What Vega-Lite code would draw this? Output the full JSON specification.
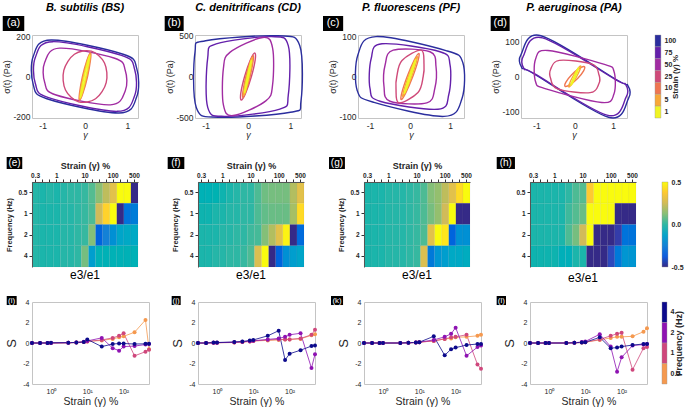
{
"$schema":"https://vega.github.io/schema/vega-lite/v6.json",
"padding":{"left":2,"top":1,"right":0,"bottom":0},
"background":"white",
"config":{"font":"Liberation Sans","locale":{"number":{"decimal":".","thousands":",","grouping":[3],"currency":["$",""],"minus":"-"}},"view":{"stroke":"#c4c4c4","strokeWidth":1},"axis":{"labelFont":"Liberation Sans","titleFont":"Liberation Sans","labelColor":"#262626","titleColor":"#262626","grid":false,"domain":false,"ticks":false,"titleFontWeight":"normal"},"title":{"font":"Liberation Sans"}},
"datasets":{
"la":[
{"s":100,"o":1,"g":-1.22,"t":100},{"s":100,"o":2,"g":-0.8,"t":180},{"s":100,"o":3,"g":0.9,"t":110},{"s":100,"o":4,"g":1.22,"t":40},{"s":100,"o":5,"g":1.22,"t":-100},{"s":100,"o":6,"g":0.8,"t":-180},{"s":100,"o":7,"g":-0.9,"t":-110},{"s":100,"o":8,"g":-1.22,"t":-40},
{"s":75,"o":1,"g":-1.17,"t":95},{"s":75,"o":2,"g":-0.76,"t":172},{"s":75,"o":3,"g":0.86,"t":104},{"s":75,"o":4,"g":1.17,"t":36},{"s":75,"o":5,"g":1.17,"t":-95},{"s":75,"o":6,"g":0.76,"t":-172},{"s":75,"o":7,"g":-0.86,"t":-104},{"s":75,"o":8,"g":-1.17,"t":-36},
{"s":50,"o":1,"g":-0.95,"t":70},{"s":50,"o":2,"g":-0.6,"t":140},{"s":50,"o":3,"g":0.7,"t":90},{"s":50,"o":4,"g":0.95,"t":30},{"s":50,"o":5,"g":0.95,"t":-70},{"s":50,"o":6,"g":0.6,"t":-140},{"s":50,"o":7,"g":-0.7,"t":-90},{"s":50,"o":8,"g":-0.95,"t":-30},
{"s":25,"o":1,"g":0.15,"t":125},{"s":25,"o":2,"g":0.46,"t":67},{"s":25,"o":3,"g":0.5,"t":-30},{"s":25,"o":4,"g":0.25,"t":-110},{"s":25,"o":5,"g":-0.15,"t":-125},{"s":25,"o":6,"g":-0.46,"t":-67},{"s":25,"o":7,"g":-0.5,"t":30},{"s":25,"o":8,"g":-0.25,"t":110},
{"s":10,"o":1,"g":0.13,"t":118},{"s":10,"o":2,"g":0.13,"t":83},{"s":10,"o":3,"g":0.06,"t":0},{"s":10,"o":4,"g":-0.05,"t":-83},{"s":10,"o":5,"g":-0.13,"t":-118},{"s":10,"o":6,"g":-0.13,"t":-83},{"s":10,"o":7,"g":-0.06,"t":0},{"s":10,"o":8,"g":0.05,"t":83},
{"s":5,"o":1,"g":0.12,"t":112},{"s":5,"o":2,"g":0.113,"t":79},{"s":5,"o":3,"g":0.04,"t":0},{"s":5,"o":4,"g":-0.057,"t":-79},{"s":5,"o":5,"g":-0.12,"t":-112},{"s":5,"o":6,"g":-0.113,"t":-79},{"s":5,"o":7,"g":-0.04,"t":0},{"s":5,"o":8,"g":0.057,"t":79},
{"s":1,"o":1,"g":0.11,"t":105},{"s":1,"o":2,"g":0.092,"t":74},{"s":1,"o":3,"g":0.02,"t":0},{"s":1,"o":4,"g":-0.064,"t":-74},{"s":1,"o":5,"g":-0.11,"t":-105},{"s":1,"o":6,"g":-0.092,"t":-74},{"s":1,"o":7,"g":-0.02,"t":0},{"s":1,"o":8,"g":0.064,"t":74}
],
"lb":[
{"s":100,"o":1,"g":-1.25,"t":300},{"s":100,"o":2,"g":-1.0,"t":440},{"s":100,"o":3,"g":0.7,"t":500},{"s":100,"o":4,"g":1.22,"t":380},{"s":100,"o":5,"g":1.25,"t":-300},{"s":100,"o":6,"g":1.0,"t":-440},{"s":100,"o":7,"g":-0.7,"t":-500},{"s":100,"o":8,"g":-1.22,"t":-380},
{"s":75,"o":1,"g":-0.95,"t":230},{"s":75,"o":2,"g":-0.75,"t":400},{"s":75,"o":3,"g":0.55,"t":490},{"s":75,"o":4,"g":0.95,"t":380},{"s":75,"o":5,"g":0.95,"t":-230},{"s":75,"o":6,"g":0.75,"t":-400},{"s":75,"o":7,"g":-0.55,"t":-490},{"s":75,"o":8,"g":-0.95,"t":-380},
{"s":50,"o":1,"g":-0.58,"t":100},{"s":50,"o":2,"g":-0.42,"t":300},{"s":50,"o":3,"g":0.35,"t":480},{"s":50,"o":4,"g":0.58,"t":350},{"s":50,"o":5,"g":0.58,"t":-100},{"s":50,"o":6,"g":0.42,"t":-300},{"s":50,"o":7,"g":-0.35,"t":-480},{"s":50,"o":8,"g":-0.58,"t":-350},
{"s":25,"o":1,"g":0.16,"t":290},{"s":25,"o":2,"g":0.17,"t":205},{"s":25,"o":3,"g":0.08,"t":0},{"s":25,"o":4,"g":-0.057,"t":-205},{"s":25,"o":5,"g":-0.16,"t":-290},{"s":25,"o":6,"g":-0.17,"t":-205},{"s":25,"o":7,"g":-0.08,"t":0},{"s":25,"o":8,"g":0.057,"t":205},
{"s":10,"o":1,"g":0.12,"t":260},{"s":10,"o":2,"g":0.12,"t":184},{"s":10,"o":3,"g":0.05,"t":0},{"s":10,"o":4,"g":-0.05,"t":-184},{"s":10,"o":5,"g":-0.12,"t":-260},{"s":10,"o":6,"g":-0.12,"t":-184},{"s":10,"o":7,"g":-0.05,"t":0},{"s":10,"o":8,"g":0.05,"t":184},
{"s":5,"o":1,"g":0.1,"t":230},{"s":5,"o":2,"g":0.092,"t":163},{"s":5,"o":3,"g":0.03,"t":0},{"s":5,"o":4,"g":-0.05,"t":-163},{"s":5,"o":5,"g":-0.1,"t":-230},{"s":5,"o":6,"g":-0.092,"t":-163},{"s":5,"o":7,"g":-0.03,"t":0},{"s":5,"o":8,"g":0.05,"t":163},
{"s":1,"o":1,"g":0.08,"t":200},{"s":1,"o":2,"g":0.067,"t":141},{"s":1,"o":3,"g":0.015,"t":0},{"s":1,"o":4,"g":-0.046,"t":-141},{"s":1,"o":5,"g":-0.08,"t":-200},{"s":1,"o":6,"g":-0.067,"t":-141},{"s":1,"o":7,"g":-0.015,"t":0},{"s":1,"o":8,"g":0.046,"t":141}
],
"lc":[
{"s":100,"o":1,"g":-1.3,"t":55},{"s":100,"o":2,"g":-0.85,"t":100},{"s":100,"o":3,"g":0.9,"t":65},{"s":100,"o":4,"g":1.32,"t":35},{"s":100,"o":5,"g":1.3,"t":-55},{"s":100,"o":6,"g":0.85,"t":-100},{"s":100,"o":7,"g":-0.9,"t":-65},{"s":100,"o":8,"g":-1.32,"t":-35},
{"s":75,"o":1,"g":-0.97,"t":45},{"s":75,"o":2,"g":-0.7,"t":82},{"s":75,"o":3,"g":0.75,"t":62},{"s":75,"o":4,"g":1.0,"t":30},{"s":75,"o":5,"g":0.97,"t":-45},{"s":75,"o":6,"g":0.7,"t":-82},{"s":75,"o":7,"g":-0.75,"t":-62},{"s":75,"o":8,"g":-1.0,"t":-30},
{"s":50,"o":1,"g":-0.62,"t":30},{"s":50,"o":2,"g":-0.42,"t":66},{"s":50,"o":3,"g":0.5,"t":62},{"s":50,"o":4,"g":0.65,"t":25},{"s":50,"o":5,"g":0.62,"t":-30},{"s":50,"o":6,"g":0.42,"t":-66},{"s":50,"o":7,"g":-0.5,"t":-62},{"s":50,"o":8,"g":-0.65,"t":-25},
{"s":25,"o":1,"g":-0.33,"t":0},{"s":25,"o":2,"g":-0.2,"t":40},{"s":25,"o":3,"g":0.28,"t":66},{"s":25,"o":4,"g":0.35,"t":30},{"s":25,"o":5,"g":0.33,"t":0},{"s":25,"o":6,"g":0.2,"t":-40},{"s":25,"o":7,"g":-0.28,"t":-66},{"s":25,"o":8,"g":-0.35,"t":-30},
{"s":10,"o":1,"g":0.22,"t":58},{"s":10,"o":2,"g":0.205,"t":41},{"s":10,"o":3,"g":0.07,"t":0},{"s":10,"o":4,"g":-0.106,"t":-41},{"s":10,"o":5,"g":-0.22,"t":-58},{"s":10,"o":6,"g":-0.205,"t":-41},{"s":10,"o":7,"g":-0.07,"t":0},{"s":10,"o":8,"g":0.106,"t":41},
{"s":5,"o":1,"g":0.18,"t":50},{"s":5,"o":2,"g":0.155,"t":35},{"s":5,"o":3,"g":0.04,"t":0},{"s":5,"o":4,"g":-0.099,"t":-35},{"s":5,"o":5,"g":-0.18,"t":-50},{"s":5,"o":6,"g":-0.155,"t":-35},{"s":5,"o":7,"g":-0.04,"t":0},{"s":5,"o":8,"g":0.099,"t":35},
{"s":1,"o":1,"g":0.14,"t":42},{"s":1,"o":2,"g":0.113,"t":30},{"s":1,"o":3,"g":0.02,"t":0},{"s":1,"o":4,"g":-0.085,"t":-30},{"s":1,"o":5,"g":-0.14,"t":-42},{"s":1,"o":6,"g":-0.113,"t":-30},{"s":1,"o":7,"g":-0.02,"t":0},{"s":1,"o":8,"g":0.085,"t":30}
],
"ld":[
{"s":100,"o":1,"g":-1.4,"t":62},{"s":100,"o":2,"g":-0.88,"t":116},{"s":100,"o":3,"g":1.1,"t":-10},{"s":100,"o":4,"g":1.38,"t":-25},{"s":100,"o":5,"g":1.4,"t":-62},{"s":100,"o":6,"g":0.88,"t":-116},{"s":100,"o":7,"g":-1.1,"t":10},{"s":100,"o":8,"g":-1.38,"t":25},
{"s":75,"o":1,"g":-1.34,"t":58},{"s":75,"o":2,"g":-0.84,"t":110},{"s":75,"o":3,"g":1.05,"t":-8},{"s":75,"o":4,"g":1.32,"t":-22},{"s":75,"o":5,"g":1.34,"t":-58},{"s":75,"o":6,"g":0.84,"t":-110},{"s":75,"o":7,"g":-1.05,"t":8},{"s":75,"o":8,"g":-1.32,"t":22},
{"s":50,"o":1,"g":-1.02,"t":50},{"s":50,"o":2,"g":-0.7,"t":74},{"s":50,"o":3,"g":0.75,"t":35},{"s":50,"o":4,"g":1.02,"t":15},{"s":50,"o":5,"g":1.02,"t":-50},{"s":50,"o":6,"g":0.7,"t":-74},{"s":50,"o":7,"g":-0.75,"t":-35},{"s":50,"o":8,"g":-1.02,"t":-15},
{"s":25,"o":1,"g":-0.63,"t":20},{"s":25,"o":2,"g":-0.4,"t":46},{"s":25,"o":3,"g":0.45,"t":35},{"s":25,"o":4,"g":0.63,"t":5},{"s":25,"o":5,"g":0.63,"t":-20},{"s":25,"o":6,"g":0.4,"t":-46},{"s":25,"o":7,"g":-0.45,"t":-35},{"s":25,"o":8,"g":-0.63,"t":-5},
{"s":10,"o":1,"g":0.25,"t":28},{"s":10,"o":2,"g":0.23,"t":16},{"s":10,"o":3,"g":0.08,"t":-5},{"s":10,"o":4,"g":-0.12,"t":-23},{"s":10,"o":5,"g":-0.25,"t":-28},{"s":10,"o":6,"g":-0.23,"t":-16},{"s":10,"o":7,"g":-0.08,"t":5},{"s":10,"o":8,"g":0.12,"t":23},
{"s":5,"o":1,"g":0.15,"t":30},{"s":5,"o":2,"g":0.141,"t":21},{"s":5,"o":3,"g":0.05,"t":0},{"s":5,"o":4,"g":-0.071,"t":-21},{"s":5,"o":5,"g":-0.15,"t":-30},{"s":5,"o":6,"g":-0.141,"t":-21},{"s":5,"o":7,"g":-0.05,"t":0},{"s":5,"o":8,"g":0.071,"t":21},
{"s":1,"o":1,"g":0.1,"t":25},{"s":1,"o":2,"g":0.085,"t":18},{"s":1,"o":3,"g":0.02,"t":0},{"s":1,"o":4,"g":-0.057,"t":-18},{"s":1,"o":5,"g":-0.1,"t":-25},{"s":1,"o":6,"g":-0.085,"t":-18},{"s":1,"o":7,"g":-0.02,"t":0},{"s":1,"o":8,"g":0.057,"t":18}
],
"he":[
{"s":0.3,"f":0.5,"v":-0.01},{"s":0.5,"f":0.5,"v":-0.02},{"s":0.8,"f":0.5,"v":-0.01},{"s":1,"f":0.5,"v":-0.02},{"s":3,"f":0.5,"v":-0.01},{"s":5,"f":0.5,"v":0},{"s":8,"f":0.5,"v":0},{"s":10,"f":0.5,"v":0.01},{"s":25,"f":0.5,"v":0.05},{"s":50,"f":0.5,"v":0.13},{"s":75,"f":0.5,"v":0.22},{"s":100,"f":0.5,"v":0.3},{"s":200,"f":0.5,"v":0.5},{"s":400,"f":0.5,"v":0.52},{"s":500,"f":0.5,"v":-0.55},
{"s":0.3,"f":1,"v":-0.01},{"s":0.5,"f":1,"v":-0.02},{"s":0.8,"f":1,"v":-0.02},{"s":1,"f":1,"v":-0.02},{"s":3,"f":1,"v":-0.01},{"s":5,"f":1,"v":-0.01},{"s":8,"f":1,"v":0},{"s":10,"f":1,"v":0.01},{"s":25,"f":1,"v":0.04},{"s":50,"f":1,"v":0.25},{"s":75,"f":1,"v":0.4},{"s":100,"f":1,"v":0.52},{"s":200,"f":1,"v":-0.52},{"s":400,"f":1,"v":-0.3},{"s":500,"f":1,"v":-0.27},
{"s":0.3,"f":2,"v":-0.01},{"s":0.5,"f":2,"v":-0.02},{"s":0.8,"f":2,"v":-0.02},{"s":1,"f":2,"v":-0.02},{"s":3,"f":2,"v":-0.01},{"s":5,"f":2,"v":-0.01},{"s":8,"f":2,"v":0},{"s":10,"f":2,"v":0.01},{"s":25,"f":2,"v":0.12},{"s":50,"f":2,"v":-0.35},{"s":75,"f":2,"v":-0.25},{"s":100,"f":2,"v":-0.2},{"s":200,"f":2,"v":-0.12},{"s":400,"f":2,"v":-0.1},{"s":500,"f":2,"v":-0.1},
{"s":0.3,"f":4,"v":-0.01},{"s":0.5,"f":4,"v":-0.02},{"s":0.8,"f":4,"v":-0.02},{"s":1,"f":4,"v":-0.02},{"s":3,"f":4,"v":-0.01},{"s":5,"f":4,"v":-0.01},{"s":8,"f":4,"v":0},{"s":10,"f":4,"v":0.1},{"s":25,"f":4,"v":-0.15},{"s":50,"f":4,"v":-0.05},{"s":75,"f":4,"v":-0.05},{"s":100,"f":4,"v":-0.05},{"s":200,"f":4,"v":-0.05},{"s":400,"f":4,"v":-0.05},{"s":500,"f":4,"v":-0.05}
],
"hf":[
{"s":0.3,"f":0.5,"v":-0.05},{"s":0.5,"f":0.5,"v":-0.05},{"s":0.8,"f":0.5,"v":-0.04},{"s":1,"f":0.5,"v":-0.03},{"s":3,"f":0.5,"v":-0.02},{"s":5,"f":0.5,"v":-0.01},{"s":8,"f":0.5,"v":0},{"s":10,"f":0.5,"v":0},{"s":25,"f":0.5,"v":0.04},{"s":50,"f":0.5,"v":0.09},{"s":75,"f":0.5,"v":0.1},{"s":100,"f":0.5,"v":0.1},{"s":200,"f":0.5,"v":0.1},{"s":400,"f":0.5,"v":0.2},{"s":500,"f":0.5,"v":0.3},
{"s":0.3,"f":1,"v":-0.03},{"s":0.5,"f":1,"v":-0.03},{"s":0.8,"f":1,"v":-0.02},{"s":1,"f":1,"v":-0.02},{"s":3,"f":1,"v":-0.01},{"s":5,"f":1,"v":-0.01},{"s":8,"f":1,"v":0},{"s":10,"f":1,"v":0},{"s":25,"f":1,"v":0.04},{"s":50,"f":1,"v":0.07},{"s":75,"f":1,"v":0.08},{"s":100,"f":1,"v":0.08},{"s":200,"f":1,"v":0.08},{"s":400,"f":1,"v":0.18},{"s":500,"f":1,"v":0.42},
{"s":0.3,"f":2,"v":-0.02},{"s":0.5,"f":2,"v":-0.02},{"s":0.8,"f":2,"v":-0.02},{"s":1,"f":2,"v":-0.01},{"s":3,"f":2,"v":-0.01},{"s":5,"f":2,"v":0},{"s":8,"f":2,"v":0},{"s":10,"f":2,"v":0.02},{"s":25,"f":2,"v":0.03},{"s":50,"f":2,"v":0.12},{"s":75,"f":2,"v":0.2},{"s":100,"f":2,"v":0.3},{"s":200,"f":2,"v":0.48},{"s":400,"f":2,"v":-0.5},{"s":500,"f":2,"v":-0.33},
{"s":0.3,"f":4,"v":-0.02},{"s":0.5,"f":4,"v":-0.02},{"s":0.8,"f":4,"v":-0.01},{"s":1,"f":4,"v":-0.01},{"s":3,"f":4,"v":0},{"s":5,"f":4,"v":0},{"s":8,"f":4,"v":0.01},{"s":10,"f":4,"v":0.04},{"s":25,"f":4,"v":0.28},{"s":50,"f":4,"v":0.5},{"s":75,"f":4,"v":-0.5},{"s":100,"f":4,"v":-0.35},{"s":200,"f":4,"v":-0.2},{"s":400,"f":4,"v":-0.15},{"s":500,"f":4,"v":-0.12}
],
"hg":[
{"s":0.3,"f":0.5,"v":-0.02},{"s":0.5,"f":0.5,"v":-0.02},{"s":0.8,"f":0.5,"v":-0.02},{"s":1,"f":0.5,"v":-0.01},{"s":3,"f":0.5,"v":-0.01},{"s":5,"f":0.5,"v":-0.01},{"s":8,"f":0.5,"v":0},{"s":10,"f":0.5,"v":0.01},{"s":25,"f":0.5,"v":0.04},{"s":50,"f":0.5,"v":0.12},{"s":75,"f":0.5,"v":0.15},{"s":100,"f":0.5,"v":0.22},{"s":200,"f":0.5,"v":0.3},{"s":400,"f":0.5,"v":0.42},{"s":500,"f":0.5,"v":0.5},
{"s":0.3,"f":1,"v":-0.02},{"s":0.5,"f":1,"v":-0.02},{"s":0.8,"f":1,"v":-0.02},{"s":1,"f":1,"v":-0.01},{"s":3,"f":1,"v":-0.01},{"s":5,"f":1,"v":-0.01},{"s":8,"f":1,"v":0},{"s":10,"f":1,"v":0.01},{"s":25,"f":1,"v":0.04},{"s":50,"f":1,"v":0.1},{"s":75,"f":1,"v":0.15},{"s":100,"f":1,"v":0.25},{"s":200,"f":1,"v":0.5},{"s":400,"f":1,"v":-0.5},{"s":500,"f":1,"v":-0.5},
{"s":0.3,"f":2,"v":-0.02},{"s":0.5,"f":2,"v":-0.02},{"s":0.8,"f":2,"v":-0.02},{"s":1,"f":2,"v":-0.01},{"s":3,"f":2,"v":-0.01},{"s":5,"f":2,"v":-0.01},{"s":8,"f":2,"v":0},{"s":10,"f":2,"v":0.01},{"s":25,"f":2,"v":0.04},{"s":50,"f":2,"v":0.3},{"s":75,"f":2,"v":0.5},{"s":100,"f":2,"v":0.45},{"s":200,"f":2,"v":-0.35},{"s":400,"f":2,"v":-0.2},{"s":500,"f":2,"v":-0.2},
{"s":0.3,"f":4,"v":-0.02},{"s":0.5,"f":4,"v":-0.02},{"s":0.8,"f":4,"v":-0.02},{"s":1,"f":4,"v":-0.01},{"s":3,"f":4,"v":-0.01},{"s":5,"f":4,"v":-0.01},{"s":8,"f":4,"v":0},{"s":10,"f":4,"v":0.01},{"s":25,"f":4,"v":0.28},{"s":50,"f":4,"v":-0.28},{"s":75,"f":4,"v":-0.18},{"s":100,"f":4,"v":-0.15},{"s":200,"f":4,"v":-0.1},{"s":400,"f":4,"v":-0.1},{"s":500,"f":4,"v":-0.08}
],
"hh":[
{"s":0.3,"f":0.5,"v":-0.02},{"s":0.5,"f":0.5,"v":-0.02},{"s":0.8,"f":0.5,"v":-0.02},{"s":1,"f":0.5,"v":-0.02},{"s":3,"f":0.5,"v":-0.02},{"s":5,"f":0.5,"v":0},{"s":8,"f":0.5,"v":0.04},{"s":10,"f":0.5,"v":0.05},{"s":25,"f":0.5,"v":0.38},{"s":50,"f":0.5,"v":0.55},{"s":75,"f":0.5,"v":0.55},{"s":100,"f":0.5,"v":0.55},{"s":200,"f":0.5,"v":0.55},{"s":400,"f":0.5,"v":0.55},{"s":500,"f":0.5,"v":0.55},
{"s":0.3,"f":1,"v":-0.02},{"s":0.5,"f":1,"v":-0.02},{"s":0.8,"f":1,"v":-0.02},{"s":1,"f":1,"v":-0.02},{"s":3,"f":1,"v":-0.02},{"s":5,"f":1,"v":0.02},{"s":8,"f":1,"v":0.05},{"s":10,"f":1,"v":0.08},{"s":25,"f":1,"v":0.55},{"s":50,"f":1,"v":0.55},{"s":75,"f":1,"v":0.55},{"s":100,"f":1,"v":0.55},{"s":200,"f":1,"v":-0.5},{"s":400,"f":1,"v":-0.5},{"s":500,"f":1,"v":-0.5},
{"s":0.3,"f":2,"v":-0.02},{"s":0.5,"f":2,"v":-0.02},{"s":0.8,"f":2,"v":-0.02},{"s":1,"f":2,"v":-0.02},{"s":3,"f":2,"v":-0.02},{"s":5,"f":2,"v":0.04},{"s":8,"f":2,"v":0.1},{"s":10,"f":2,"v":0.25},{"s":25,"f":2,"v":0.5},{"s":50,"f":2,"v":-0.5},{"s":75,"f":2,"v":-0.5},{"s":100,"f":2,"v":-0.5},{"s":200,"f":2,"v":-0.45},{"s":400,"f":2,"v":-0.3},{"s":500,"f":2,"v":-0.3},
{"s":0.3,"f":4,"v":-0.03},{"s":0.5,"f":4,"v":-0.03},{"s":0.8,"f":4,"v":-0.03},{"s":1,"f":4,"v":-0.03},{"s":3,"f":4,"v":-0.06},{"s":5,"f":4,"v":-0.06},{"s":8,"f":4,"v":-0.02},{"s":10,"f":4,"v":-0.02},{"s":25,"f":4,"v":-0.5},{"s":50,"f":4,"v":-0.5},{"s":75,"f":4,"v":-0.5},{"s":100,"f":4,"v":-0.42},{"s":200,"f":4,"v":-0.28},{"s":400,"f":4,"v":-0.18},{"s":500,"f":4,"v":-0.18}
],
"si":[
{"s":0.3,"f":0.5,"v":0},{"s":0.5,"f":0.5,"v":0},{"s":0.8,"f":0.5,"v":0},{"s":1,"f":0.5,"v":0},{"s":3,"f":0.5,"v":0.02},{"s":5,"f":0.5,"v":0.05},{"s":8,"f":0.5,"v":0.1},{"s":10,"f":0.5,"v":0.15},{"s":25,"f":0.5,"v":0.25},{"s":50,"f":0.5,"v":0.4},{"s":75,"f":0.5,"v":0.55},{"s":100,"f":0.5,"v":0.65},{"s":200,"f":0.5,"v":1.05},{"s":400,"f":0.5,"v":2.25},{"s":500,"f":0.5,"v":-0.6},
{"s":0.3,"f":1,"v":0},{"s":0.5,"f":1,"v":0},{"s":0.8,"f":1,"v":0},{"s":1,"f":1,"v":0},{"s":3,"f":1,"v":0.02},{"s":5,"f":1,"v":0.05},{"s":8,"f":1,"v":0.1},{"s":10,"f":1,"v":0.15},{"s":25,"f":1,"v":0.3},{"s":50,"f":1,"v":0.5},{"s":75,"f":1,"v":0.7},{"s":100,"f":1,"v":0.95},{"s":200,"f":1,"v":-1.25},{"s":400,"f":1,"v":-0.85},{"s":500,"f":1,"v":-0.65},
{"s":0.3,"f":2,"v":0},{"s":0.5,"f":2,"v":0},{"s":0.8,"f":2,"v":0},{"s":1,"f":2,"v":0},{"s":3,"f":2,"v":0.03},{"s":5,"f":2,"v":0.05},{"s":8,"f":2,"v":0.12},{"s":10,"f":2,"v":0.2},{"s":25,"f":2,"v":0.5},{"s":50,"f":2,"v":-0.5},{"s":75,"f":2,"v":-0.75},{"s":100,"f":2,"v":-0.35},{"s":200,"f":2,"v":-0.3},{"s":400,"f":2,"v":-0.15},{"s":500,"f":2,"v":-0.1},
{"s":0.3,"f":4,"v":0},{"s":0.5,"f":4,"v":0},{"s":0.8,"f":4,"v":0.01},{"s":1,"f":4,"v":0.02},{"s":3,"f":4,"v":0.03},{"s":5,"f":4,"v":0.05},{"s":8,"f":4,"v":0.1},{"s":10,"f":4,"v":0.35},{"s":25,"f":4,"v":-0.35},{"s":50,"f":4,"v":-0.1},{"s":75,"f":4,"v":-0.05},{"s":100,"f":4,"v":-0.05},{"s":200,"f":4,"v":-0.1},{"s":400,"f":4,"v":-0.08},{"s":500,"f":4,"v":-0.08}
],
"sj":[
{"s":0.3,"f":0.5,"v":0},{"s":0.5,"f":0.5,"v":0},{"s":0.8,"f":0.5,"v":0.02},{"s":1,"f":0.5,"v":0.03},{"s":3,"f":0.5,"v":0.05},{"s":5,"f":0.5,"v":0.1},{"s":8,"f":0.5,"v":0.15},{"s":10,"f":0.5,"v":0.2},{"s":25,"f":0.5,"v":0.25},{"s":50,"f":0.5,"v":0.3},{"s":75,"f":0.5,"v":0.35},{"s":100,"f":0.5,"v":0.35},{"s":200,"f":0.5,"v":0.4},{"s":400,"f":0.5,"v":0.75},{"s":500,"f":0.5,"v":0.85},
{"s":0.3,"f":1,"v":0},{"s":0.5,"f":1,"v":0},{"s":0.8,"f":1,"v":0.02},{"s":1,"f":1,"v":0.03},{"s":3,"f":1,"v":0.05},{"s":5,"f":1,"v":0.1},{"s":8,"f":1,"v":0.15},{"s":10,"f":1,"v":0.2},{"s":25,"f":1,"v":0.3},{"s":50,"f":1,"v":0.35},{"s":75,"f":1,"v":0.35},{"s":100,"f":1,"v":0.35},{"s":200,"f":1,"v":0.45},{"s":400,"f":1,"v":0.8},{"s":500,"f":1,"v":1.3},
{"s":0.3,"f":2,"v":0},{"s":0.5,"f":2,"v":0},{"s":0.8,"f":2,"v":0.02},{"s":1,"f":2,"v":0.03},{"s":3,"f":2,"v":0.08},{"s":5,"f":2,"v":0.12},{"s":8,"f":2,"v":0.18},{"s":10,"f":2,"v":0.22},{"s":25,"f":2,"v":0.35},{"s":50,"f":2,"v":0.45},{"s":75,"f":2,"v":0.6},{"s":100,"f":2,"v":0.8},{"s":200,"f":2,"v":0.95},{"s":400,"f":2,"v":-2.45},{"s":500,"f":2,"v":-1.1},
{"s":0.3,"f":4,"v":0},{"s":0.5,"f":4,"v":0},{"s":0.8,"f":4,"v":0.05},{"s":1,"f":4,"v":0.05},{"s":3,"f":4,"v":0.1},{"s":5,"f":4,"v":0.15},{"s":8,"f":4,"v":0.25},{"s":10,"f":4,"v":0.3},{"s":25,"f":4,"v":0.7},{"s":50,"f":4,"v":1.2},{"s":75,"f":4,"v":-1.65},{"s":100,"f":4,"v":-1.05},{"s":200,"f":4,"v":-0.7},{"s":400,"f":4,"v":-0.3},{"s":500,"f":4,"v":-0.25}
],
"sk":[
{"s":0.3,"f":0.5,"v":0},{"s":0.5,"f":0.5,"v":0},{"s":0.8,"f":0.5,"v":0},{"s":1,"f":0.5,"v":0},{"s":3,"f":0.5,"v":0},{"s":5,"f":0.5,"v":0.02},{"s":8,"f":0.5,"v":0.05},{"s":10,"f":0.5,"v":0.08},{"s":25,"f":0.5,"v":0.2},{"s":50,"f":0.5,"v":0.4},{"s":75,"f":0.5,"v":0.45},{"s":100,"f":0.5,"v":0.55},{"s":200,"f":0.5,"v":0.6},{"s":400,"f":0.5,"v":0.7},{"s":500,"f":0.5,"v":0.8},
{"s":0.3,"f":1,"v":0},{"s":0.5,"f":1,"v":0},{"s":0.8,"f":1,"v":0},{"s":1,"f":1,"v":0},{"s":3,"f":1,"v":0},{"s":5,"f":1,"v":0.02},{"s":8,"f":1,"v":0.05},{"s":10,"f":1,"v":0.08},{"s":25,"f":1,"v":0.2},{"s":50,"f":1,"v":0.4},{"s":75,"f":1,"v":0.55},{"s":100,"f":1,"v":0.6},{"s":200,"f":1,"v":0.8},{"s":400,"f":1,"v":-2.1},{"s":500,"f":1,"v":-2.5},
{"s":0.3,"f":2,"v":0},{"s":0.5,"f":2,"v":0},{"s":0.8,"f":2,"v":0},{"s":1,"f":2,"v":0},{"s":3,"f":2,"v":0},{"s":5,"f":2,"v":0.02},{"s":8,"f":2,"v":0.05},{"s":10,"f":2,"v":0.08},{"s":25,"f":2,"v":0.3},{"s":50,"f":2,"v":0.6},{"s":75,"f":2,"v":0.9},{"s":100,"f":2,"v":1.5},{"s":200,"f":2,"v":-1.25},{"s":400,"f":2,"v":-0.4},{"s":500,"f":2,"v":-0.25},
{"s":0.3,"f":4,"v":0},{"s":0.5,"f":4,"v":0},{"s":0.8,"f":4,"v":0},{"s":1,"f":4,"v":0},{"s":3,"f":4,"v":0},{"s":5,"f":4,"v":0.02},{"s":8,"f":4,"v":0.05},{"s":10,"f":4,"v":0.08},{"s":25,"f":4,"v":0.65},{"s":50,"f":4,"v":-1.2},{"s":75,"f":4,"v":-0.6},{"s":100,"f":4,"v":-0.45},{"s":200,"f":4,"v":-0.2},{"s":400,"f":4,"v":-0.1},{"s":500,"f":4,"v":-0.1}
],
"sl":[
{"s":0.3,"f":0.5,"v":0},{"s":0.5,"f":0.5,"v":0},{"s":0.8,"f":0.5,"v":0},{"s":1,"f":0.5,"v":0},{"s":3,"f":0.5,"v":0},{"s":5,"f":0.5,"v":0.02},{"s":8,"f":0.5,"v":0.05},{"s":10,"f":0.5,"v":0.08},{"s":25,"f":0.5,"v":0.3},{"s":50,"f":0.5,"v":0.5},{"s":75,"f":0.5,"v":0.6},{"s":100,"f":0.5,"v":0.6},{"s":200,"f":0.5,"v":0.65},{"s":400,"f":0.5,"v":1.1},{"s":500,"f":0.5,"v":1.45},
{"s":0.3,"f":1,"v":0},{"s":0.5,"f":1,"v":0},{"s":0.8,"f":1,"v":0},{"s":1,"f":1,"v":0},{"s":3,"f":1,"v":0},{"s":5,"f":1,"v":0.02},{"s":8,"f":1,"v":0.05},{"s":10,"f":1,"v":0.08},{"s":25,"f":1,"v":0.35},{"s":50,"f":1,"v":0.7},{"s":75,"f":1,"v":0.9},{"s":100,"f":1,"v":1.0},{"s":200,"f":1,"v":-2.6},{"s":400,"f":1,"v":-0.5},{"s":500,"f":1,"v":-0.4},
{"s":0.3,"f":2,"v":0},{"s":0.5,"f":2,"v":0},{"s":0.8,"f":2,"v":0},{"s":1,"f":2,"v":0},{"s":3,"f":2,"v":0},{"s":5,"f":2,"v":0.02},{"s":8,"f":2,"v":0.1},{"s":10,"f":2,"v":0.15},{"s":25,"f":2,"v":0.85},{"s":50,"f":2,"v":-0.35},{"s":75,"f":2,"v":-2.8},{"s":100,"f":2,"v":-1.4},{"s":200,"f":2,"v":-0.25},{"s":400,"f":2,"v":-0.15},{"s":500,"f":2,"v":-0.1},
{"s":0.3,"f":4,"v":0},{"s":0.5,"f":4,"v":0},{"s":0.8,"f":4,"v":0},{"s":1,"f":4,"v":0},{"s":3,"f":4,"v":0},{"s":5,"f":4,"v":0.02},{"s":8,"f":4,"v":0.05},{"s":10,"f":4,"v":0.08},{"s":25,"f":4,"v":0.55},{"s":50,"f":4,"v":-0.5},{"s":75,"f":4,"v":-0.45},{"s":100,"f":4,"v":-0.35},{"s":200,"f":4,"v":-0.2},{"s":400,"f":4,"v":-0.1},{"s":500,"f":4,"v":-0.1}
]
},
"vconcat":[
{"vconcat":[
{"hconcat":[
{"width":106,"height":83,
"title":{"text":"B. subtilis (BS)","fontSize":11,"fontWeight":"bold","fontStyle":"italic","frame":"group","offset":3,"color":"#000"},
"layer":[
{"data":{"name":"la"},"mark":{"type":"line","interpolate":"cardinal-closed","strokeWidth":1.4},
"encoding":{"x":{"field":"g","type":"quantitative","scale":{"domain":[-1.25,1.25],"nice":false,"zero":false},"axis":{"values":[-1,0,1],"title":"γ","titleFontStyle":"italic","titleFontSize":9,"labelFontSize":8.5,"labelPadding":3,"titlePadding":1}},
"y":{"field":"t","type":"quantitative","scale":{"domain":[-205,205],"nice":false,"zero":false},"axis":{"values":[-200,0,200],"title":"σ(t) (Pa)","titleFontSize":9,"labelFontSize":8.5,"labelPadding":2,"titlePadding":1}},
"color":{"field":"s","type":"ordinal","scale":{"domain":[1,5,10,25,50,75,100],"range":["#f0f424","#f8a838","#ef7651","#cf4a79","#a12ca2","#6420ab","#2b2e9e"]},"legend":null},
"order":{"field":"o","type":"quantitative"}}},
{"data":{"values":[{"t":"(a)"}]},"layer":[
{"mark":{"type":"rect","color":"#000"},"encoding":{"x":{"datum":-0.276,"type":"quantitative","scale":{"domain":[0,1],"nice":false,"zero":false},"axis":null},"x2":{"datum":-0.073},"y":{"datum":1.229,"type":"quantitative","scale":{"domain":[0,1],"nice":false,"zero":false},"axis":null},"y2":{"datum":1.048}}},
{"mark":{"type":"text","color":"#fff","fontSize":11,"align":"center","baseline":"middle"},"encoding":{"x":{"datum":-0.175,"type":"quantitative","axis":null},"y":{"datum":1.139,"type":"quantitative","axis":null},"text":{"field":"t"}}}]}
],
"resolve":{"scale":{"x":"independent","y":"independent"}}},
{"width":106,"height":83,
"title":{"text":"C. denitrificans (CD)","fontSize":11,"fontWeight":"bold","fontStyle":"italic","frame":"group","offset":3,"color":"#000"},
"layer":[
{"data":{"name":"lb"},"mark":{"type":"line","interpolate":"cardinal-closed","strokeWidth":1.4},
"encoding":{"x":{"field":"g","type":"quantitative","scale":{"domain":[-1.25,1.25],"nice":false,"zero":false},"axis":{"values":[-1,0,1],"title":"γ","titleFontStyle":"italic","titleFontSize":9,"labelFontSize":8.5,"labelPadding":3,"titlePadding":1}},
"y":{"field":"t","type":"quantitative","scale":{"domain":[-510,510],"nice":false,"zero":false},"axis":{"values":[-500,0,500],"title":"σ(t) (Pa)","titleFontSize":9,"labelFontSize":8.5,"labelPadding":2,"titlePadding":1}},
"color":{"field":"s","type":"ordinal","scale":{"domain":[1,5,10,25,50,75,100],"range":["#f0f424","#f8a838","#ef7651","#cf4a79","#a12ca2","#6420ab","#2b2e9e"]},"legend":null},
"order":{"field":"o","type":"quantitative"}}},
{"data":{"values":[{"t":"(b)"}]},"layer":[
{"mark":{"type":"rect","color":"#000"},"encoding":{"x":{"datum":-0.286,"type":"quantitative","scale":{"domain":[0,1],"nice":false,"zero":false},"axis":null},"x2":{"datum":-0.107},"y":{"datum":1.229,"type":"quantitative","scale":{"domain":[0,1],"nice":false,"zero":false},"axis":null},"y2":{"datum":1.048}}},
{"mark":{"type":"text","color":"#fff","fontSize":11,"align":"center","baseline":"middle"},"encoding":{"x":{"datum":-0.196,"type":"quantitative","axis":null},"y":{"datum":1.139,"type":"quantitative","axis":null},"text":{"field":"t"}}}]}
],
"resolve":{"scale":{"x":"independent","y":"independent"}}},
{"width":106,"height":83,
"title":{"text":"P. fluorescens (PF)","fontSize":11,"fontWeight":"bold","fontStyle":"italic","frame":"group","offset":3,"color":"#000"},
"layer":[
{"data":{"name":"lc"},"mark":{"type":"line","interpolate":"cardinal-closed","strokeWidth":1.4},
"encoding":{"x":{"field":"g","type":"quantitative","scale":{"domain":[-1.3,1.35],"nice":false,"zero":false},"axis":{"values":[-1,0,1],"title":"γ","titleFontStyle":"italic","titleFontSize":9,"labelFontSize":8.5,"labelPadding":3,"titlePadding":1}},
"y":{"field":"t","type":"quantitative","scale":{"domain":[-104,104],"nice":false,"zero":false},"axis":{"values":[-100,0,100],"title":"σ(t) (Pa)","titleFontSize":9,"labelFontSize":8.5,"labelPadding":2,"titlePadding":1}},
"color":{"field":"s","type":"ordinal","scale":{"domain":[1,5,10,25,50,75,100],"range":["#f0f424","#f8a838","#ef7651","#cf4a79","#a12ca2","#6420ab","#2b2e9e"]},"legend":null},
"order":{"field":"o","type":"quantitative"}}},
{"data":{"values":[{"t":"(c)"}]},"layer":[
{"mark":{"type":"rect","color":"#000"},"encoding":{"x":{"datum":-0.33,"type":"quantitative","scale":{"domain":[0,1],"nice":false,"zero":false},"axis":null},"x2":{"datum":-0.14},"y":{"datum":1.229,"type":"quantitative","scale":{"domain":[0,1],"nice":false,"zero":false},"axis":null},"y2":{"datum":1.048}}},
{"mark":{"type":"text","color":"#fff","fontSize":11,"align":"center","baseline":"middle"},"encoding":{"x":{"datum":-0.235,"type":"quantitative","axis":null},"y":{"datum":1.139,"type":"quantitative","axis":null},"text":{"field":"t"}}}]}
],
"resolve":{"scale":{"x":"independent","y":"independent"}}},
{"width":106,"height":83,
"title":{"text":"P. aeruginosa (PA)","fontSize":11,"fontWeight":"bold","fontStyle":"italic","frame":"group","offset":3,"color":"#000"},
"layer":[
{"data":{"name":"ld"},"mark":{"type":"line","interpolate":"cardinal-closed","strokeWidth":1.4},
"encoding":{"x":{"field":"g","type":"quantitative","scale":{"domain":[-1.4,1.36],"nice":false,"zero":false},"axis":{"values":[-1,0,1],"title":"γ","titleFontStyle":"italic","titleFontSize":9,"labelFontSize":8.5,"labelPadding":3,"titlePadding":1}},
"y":{"field":"t","type":"quantitative","scale":{"domain":[-118,118],"nice":false,"zero":false},"axis":{"values":[-100,0,100],"title":"σ(t) (Pa)","titleFontSize":9,"labelFontSize":8.5,"labelPadding":2,"titlePadding":1}},
"color":{"field":"s","type":"ordinal","scale":{"domain":[1,5,10,25,50,75,100],"range":["#f0f424","#f8a838","#ef7651","#cf4a79","#a12ca2","#6420ab","#2b2e9e"]},"legend":null},
"order":{"field":"o","type":"quantitative"}}},
{"data":{"values":[{"t":"(d)"}]},"layer":[
{"mark":{"type":"rect","color":"#000"},"encoding":{"x":{"datum":-0.286,"type":"quantitative","scale":{"domain":[0,1],"nice":false,"zero":false},"axis":null},"x2":{"datum":-0.107},"y":{"datum":1.229,"type":"quantitative","scale":{"domain":[0,1],"nice":false,"zero":false},"axis":null},"y2":{"datum":1.048}}},
{"mark":{"type":"text","color":"#fff","fontSize":11,"align":"center","baseline":"middle"},"encoding":{"x":{"datum":-0.196,"type":"quantitative","axis":null},"y":{"datum":1.139,"type":"quantitative","axis":null},"text":{"field":"t"}}}]},
{"data":{"values":[{"s":100},{"s":75},{"s":50},{"s":25},{"s":10},{"s":5},{"s":1}]},"mark":{"type":"rect","stroke":"#999","strokeWidth":0.4},
"encoding":{"x":{"datum":1.264,"type":"quantitative","scale":{"domain":[0,1],"nice":false,"zero":false},"axis":null},"x2":{"datum":1.32},
"y":{"field":"s","type":"ordinal","sort":[100,75,50,25,10,5,1],"scale":{"paddingInner":0,"paddingOuter":0},"axis":{"orient":"right","offset":34,"title":"Strain (γ) %","titleAngle":270,"titleFontSize":8,"titleFontWeight":"bold","labelFontSize":7,"labelFontWeight":"bold","labelPadding":3,"titlePadding":4}},
"color":{"field":"s","type":"ordinal","scale":{"domain":[1,5,10,25,50,75,100],"range":["#f0f424","#f8a838","#ef7651","#cf4a79","#a12ca2","#6420ab","#2b2e9e"]},"legend":null}}}
],
"resolve":{"scale":{"x":"independent","y":"independent"}}}
],"spacing":57,"bounds":"flush","resolve":{"scale":{"color":"independent"}}},
{"hconcat":[
{"width":106,"height":85,"view":{"stroke":null},
"title":{"text":"e3/e1","orient":"bottom","fontSize":12,"fontWeight":"normal","frame":"group","offset":3,"color":"#000"},
"layer":[
{"data":{"name":"he"},"mark":{"type":"rect","stroke":"#000","strokeOpacity":0.07,"strokeWidth":0.5},
"encoding":{"x":{"field":"s","type":"ordinal","sort":"ascending","scale":{"paddingInner":0,"paddingOuter":0},"axis":{"orient":"top","title":"Strain (γ) %","titleFontSize":9,"titleFontWeight":"bold","titlePadding":2,"labelExpr":"indexof([0.3,1,10,100,500], datum.value) >= 0 ? datum.label : ''","labelAngle":0,"labelOverlap":false,"labelFontSize":6.5,"labelFontWeight":"bold","labelPadding":1,"ticks":true,"tickSize":3,"tickColor":"#333","domain":true,"domainColor":"#555"}},
"y":{"field":"f","type":"ordinal","sort":"ascending","scale":{"paddingInner":0,"paddingOuter":0},"axis":{"title":"Frequency (Hz)","titleFontSize":7.5,"titleFontWeight":"bold","titlePadding":4,"labelFontSize":6.5,"labelFontWeight":"bold","labelPadding":2,"ticks":true,"tickSize":3,"tickColor":"#333","domain":true,"domainColor":"#555"}},
"color":{"field":"v","type":"quantitative","scale":{"domain":[-0.5,0.5],"range":["#352a87","#0f5cdd","#1481d6","#06a4ca","#2eb7a4","#87bf77","#d1bb59","#fec832","#f9fb0e"],"clamp":true},"legend":null}}},
{"data":{"values":[{"t":"(e)"}]},"layer":[
{"mark":{"type":"rect","color":"#000"},"encoding":{"x":{"datum":-0.239,"type":"quantitative","scale":{"domain":[0,1],"nice":false,"zero":false},"axis":null},"x2":{"datum":-0.092},"y":{"datum":1.294,"type":"quantitative","scale":{"domain":[0,1],"nice":false,"zero":false},"axis":null},"y2":{"datum":1.153}}},
{"mark":{"type":"text","color":"#fff","fontSize":10,"align":"center","baseline":"middle"},"encoding":{"x":{"datum":-0.165,"type":"quantitative","axis":null},"y":{"datum":1.224,"type":"quantitative","axis":null},"text":{"field":"t"}}}]}
],
"resolve":{"scale":{"x":"independent","y":"independent"}}},
{"width":106,"height":85,"view":{"stroke":null},
"title":{"text":"e3/e1","orient":"bottom","fontSize":12,"fontWeight":"normal","frame":"group","offset":3,"color":"#000"},
"layer":[
{"data":{"name":"hf"},"mark":{"type":"rect","stroke":"#000","strokeOpacity":0.07,"strokeWidth":0.5},
"encoding":{"x":{"field":"s","type":"ordinal","sort":"ascending","scale":{"paddingInner":0,"paddingOuter":0},"axis":{"orient":"top","title":"Strain (γ) %","titleFontSize":9,"titleFontWeight":"bold","titlePadding":2,"labelExpr":"indexof([0.3,1,10,100,500], datum.value) >= 0 ? datum.label : ''","labelAngle":0,"labelOverlap":false,"labelFontSize":6.5,"labelFontWeight":"bold","labelPadding":1,"ticks":true,"tickSize":3,"tickColor":"#333","domain":true,"domainColor":"#555"}},
"y":{"field":"f","type":"ordinal","sort":"ascending","scale":{"paddingInner":0,"paddingOuter":0},"axis":{"title":"Frequency (Hz)","titleFontSize":7.5,"titleFontWeight":"bold","titlePadding":4,"labelFontSize":6.5,"labelFontWeight":"bold","labelPadding":2,"ticks":true,"tickSize":3,"tickColor":"#333","domain":true,"domainColor":"#555"}},
"color":{"field":"v","type":"quantitative","scale":{"domain":[-0.5,0.5],"range":["#352a87","#0f5cdd","#1481d6","#06a4ca","#2eb7a4","#87bf77","#d1bb59","#fec832","#f9fb0e"],"clamp":true},"legend":null}}},
{"data":{"values":[{"t":"(f)"}]},"layer":[
{"mark":{"type":"rect","color":"#000"},"encoding":{"x":{"datum":-0.286,"type":"quantitative","scale":{"domain":[0,1],"nice":false,"zero":false},"axis":null},"x2":{"datum":-0.129},"y":{"datum":1.294,"type":"quantitative","scale":{"domain":[0,1],"nice":false,"zero":false},"axis":null},"y2":{"datum":1.153}}},
{"mark":{"type":"text","color":"#fff","fontSize":10,"align":"center","baseline":"middle"},"encoding":{"x":{"datum":-0.208,"type":"quantitative","axis":null},"y":{"datum":1.224,"type":"quantitative","axis":null},"text":{"field":"t"}}}]}
],
"resolve":{"scale":{"x":"independent","y":"independent"}}},
{"width":106,"height":85,"view":{"stroke":null},
"title":{"text":"e3/e1","orient":"bottom","fontSize":12,"fontWeight":"normal","frame":"group","offset":3,"color":"#000"},
"layer":[
{"data":{"name":"hg"},"mark":{"type":"rect","stroke":"#000","strokeOpacity":0.07,"strokeWidth":0.5},
"encoding":{"x":{"field":"s","type":"ordinal","sort":"ascending","scale":{"paddingInner":0,"paddingOuter":0},"axis":{"orient":"top","title":"Strain (γ) %","titleFontSize":9,"titleFontWeight":"bold","titlePadding":2,"labelExpr":"indexof([0.3,1,10,100,500], datum.value) >= 0 ? datum.label : ''","labelAngle":0,"labelOverlap":false,"labelFontSize":6.5,"labelFontWeight":"bold","labelPadding":1,"ticks":true,"tickSize":3,"tickColor":"#333","domain":true,"domainColor":"#555"}},
"y":{"field":"f","type":"ordinal","sort":"ascending","scale":{"paddingInner":0,"paddingOuter":0},"axis":{"title":"Frequency (Hz)","titleFontSize":7.5,"titleFontWeight":"bold","titlePadding":4,"labelFontSize":6.5,"labelFontWeight":"bold","labelPadding":2,"ticks":true,"tickSize":3,"tickColor":"#333","domain":true,"domainColor":"#555"}},
"color":{"field":"v","type":"quantitative","scale":{"domain":[-0.5,0.5],"range":["#352a87","#0f5cdd","#1481d6","#06a4ca","#2eb7a4","#87bf77","#d1bb59","#fec832","#f9fb0e"],"clamp":true},"legend":null}}},
{"data":{"values":[{"t":"(g)"}]},"layer":[
{"mark":{"type":"rect","color":"#000"},"encoding":{"x":{"datum":-0.33,"type":"quantitative","scale":{"domain":[0,1],"nice":false,"zero":false},"axis":null},"x2":{"datum":-0.18},"y":{"datum":1.294,"type":"quantitative","scale":{"domain":[0,1],"nice":false,"zero":false},"axis":null},"y2":{"datum":1.153}}},
{"mark":{"type":"text","color":"#fff","fontSize":10,"align":"center","baseline":"middle"},"encoding":{"x":{"datum":-0.255,"type":"quantitative","axis":null},"y":{"datum":1.224,"type":"quantitative","axis":null},"text":{"field":"t"}}}]}
],
"resolve":{"scale":{"x":"independent","y":"independent"}}},
{"width":106,"height":85,"view":{"stroke":null},
"title":{"text":"e3/e1","orient":"bottom","fontSize":12,"fontWeight":"normal","frame":"group","offset":3,"color":"#000"},
"layer":[
{"data":{"name":"hh"},"mark":{"type":"rect","stroke":"#000","strokeOpacity":0.07,"strokeWidth":0.5},
"encoding":{"x":{"field":"s","type":"ordinal","sort":"ascending","scale":{"paddingInner":0,"paddingOuter":0},"axis":{"orient":"top","title":null,"labelExpr":"indexof([0.3,1,10,100,500], datum.value) >= 0 ? datum.label : ''","labelAngle":0,"labelOverlap":false,"labelFontSize":6.5,"labelFontWeight":"bold","labelPadding":1,"ticks":true,"tickSize":3,"tickColor":"#333","domain":true,"domainColor":"#555"}},
"y":{"field":"f","type":"ordinal","sort":"ascending","scale":{"paddingInner":0,"paddingOuter":0},"axis":{"title":null,"labelFontSize":6.5,"labelFontWeight":"bold","labelPadding":2,"ticks":true,"tickSize":3,"tickColor":"#333","domain":true,"domainColor":"#555"}},
"color":{"field":"v","type":"quantitative","scale":{"domain":[-0.5,0.5],"range":["#352a87","#0f5cdd","#1481d6","#06a4ca","#2eb7a4","#87bf77","#d1bb59","#fec832","#f9fb0e"],"clamp":true},"legend":null}}},
{"data":{"values":[{"t":"(h)"}]},"layer":[
{"mark":{"type":"rect","color":"#000"},"encoding":{"x":{"datum":-0.314,"type":"quantitative","scale":{"domain":[0,1],"nice":false,"zero":false},"axis":null},"x2":{"datum":-0.142},"y":{"datum":1.294,"type":"quantitative","scale":{"domain":[0,1],"nice":false,"zero":false},"axis":null},"y2":{"datum":1.153}}},
{"mark":{"type":"text","color":"#fff","fontSize":10,"align":"center","baseline":"middle"},"encoding":{"x":{"datum":-0.228,"type":"quantitative","axis":null},"y":{"datum":1.224,"type":"quantitative","axis":null},"text":{"field":"t"}}}]},
{"data":{"values":[{"lo":-0.5,"hi":0.5}]},
"mark":{"type":"rect","stroke":"#999","strokeWidth":0.4,"fill":{"gradient":"linear","x1":0,"y1":1,"x2":0,"y2":0,"stops":[{"offset":0,"color":"#352a87"},{"offset":0.125,"color":"#0f5cdd"},{"offset":0.25,"color":"#1481d6"},{"offset":0.375,"color":"#06a4ca"},{"offset":0.5,"color":"#2eb7a4"},{"offset":0.625,"color":"#87bf77"},{"offset":0.75,"color":"#d1bb59"},{"offset":0.875,"color":"#fec832"},{"offset":1,"color":"#f9fb0e"}]}},
"encoding":{"x":{"datum":1.245,"type":"quantitative","scale":{"domain":[0,1],"nice":false,"zero":false},"axis":null},"x2":{"datum":1.302},
"y":{"field":"lo","type":"quantitative","scale":{"domain":[-0.5,0.5],"nice":false,"zero":false},"axis":{"orient":"right","offset":32,"values":[-0.5,0,0.5],"title":null,"labelFontSize":7,"labelFontWeight":"bold","labelPadding":3}},"y2":{"field":"hi"}}}
],
"resolve":{"scale":{"x":"independent","y":"independent"}}}
],"spacing":60,"bounds":"flush","resolve":{"scale":{"color":"independent"}}}
],"spacing":17,"resolve":{"scale":{"color":"independent"}}},
{"hconcat":[
{"width":117,"height":82,
"layer":[
{"data":{"name":"si"},
"encoding":{"x":{"field":"s","type":"quantitative","scale":{"type":"log","domain":[0.3,500],"nice":false},"axis":{"values":[1,10,100],"labelExpr":"datum.value == 1 ? '10⁰' : datum.value == 10 ? '10¹' : '10²'","title":"Strain (γ) %","titleFontSize":10.5,"labelFontSize":7,"labelPadding":3,"titlePadding":2}},
"y":{"field":"v","type":"quantitative","scale":{"domain":[-4,4],"nice":false},"axis":{"values":[-4,-2,0,2,4],"title":"S","titleFontSize":13,"labelFontSize":7,"labelPadding":3,"titlePadding":4}},
"color":{"field":"f","type":"ordinal","scale":{"domain":[0.5,1,2,4],"range":["#f5994f","#cf477c","#8e13b2","#0c0a8c"]},"legend":null}},
"layer":[{"mark":{"type":"line","strokeWidth":0.8}},{"mark":{"type":"circle","size":16,"opacity":1}}]},
{"data":{"values":[{"t":"(i)"}]},"layer":[
{"mark":{"type":"rect","color":"#000"},"encoding":{"x":{"datum":-0.216,"type":"quantitative","scale":{"domain":[0,1],"nice":false,"zero":false},"axis":null},"x2":{"datum":-0.131},"y":{"datum":1.073,"type":"quantitative","scale":{"domain":[0,1],"nice":false,"zero":false},"axis":null},"y2":{"datum":0.963}}},
{"mark":{"type":"text","color":"#fff","fontSize":8,"align":"center","baseline":"middle"},"encoding":{"x":{"datum":-0.174,"type":"quantitative","axis":null},"y":{"datum":1.018,"type":"quantitative","axis":null},"text":{"field":"t"}}}]}
],
"resolve":{"scale":{"x":"independent","y":"independent"}}},
{"width":117,"height":82,
"layer":[
{"data":{"name":"sj"},
"encoding":{"x":{"field":"s","type":"quantitative","scale":{"type":"log","domain":[0.3,500],"nice":false},"axis":{"values":[1,10,100],"labelExpr":"datum.value == 1 ? '10⁰' : datum.value == 10 ? '10¹' : '10²'","title":"Strain (γ) %","titleFontSize":10.5,"labelFontSize":7,"labelPadding":3,"titlePadding":2}},
"y":{"field":"v","type":"quantitative","scale":{"domain":[-4,4],"nice":false},"axis":{"values":[-4,-2,0,2,4],"title":"S","titleFontSize":13,"labelFontSize":7,"labelPadding":3,"titlePadding":4}},
"color":{"field":"f","type":"ordinal","scale":{"domain":[0.5,1,2,4],"range":["#f5994f","#cf477c","#8e13b2","#0c0a8c"]},"legend":null}},
"layer":[{"mark":{"type":"line","strokeWidth":0.8}},{"mark":{"type":"circle","size":16,"opacity":1}}]},
{"data":{"values":[{"t":"(j)"}]},"layer":[
{"mark":{"type":"rect","color":"#000"},"encoding":{"x":{"datum":-0.225,"type":"quantitative","scale":{"domain":[0,1],"nice":false,"zero":false},"axis":null},"x2":{"datum":-0.148},"y":{"datum":1.073,"type":"quantitative","scale":{"domain":[0,1],"nice":false,"zero":false},"axis":null},"y2":{"datum":0.963}}},
{"mark":{"type":"text","color":"#fff","fontSize":8,"align":"center","baseline":"middle"},"encoding":{"x":{"datum":-0.187,"type":"quantitative","axis":null},"y":{"datum":1.018,"type":"quantitative","axis":null},"text":{"field":"t"}}}]}
],
"resolve":{"scale":{"x":"independent","y":"independent"}}},
{"width":117,"height":82,
"layer":[
{"data":{"name":"sk"},
"encoding":{"x":{"field":"s","type":"quantitative","scale":{"type":"log","domain":[0.3,500],"nice":false},"axis":{"values":[1,10,100],"labelExpr":"datum.value == 1 ? '10⁰' : datum.value == 10 ? '10¹' : '10²'","title":"Strain (γ) %","titleFontSize":10.5,"labelFontSize":7,"labelPadding":3,"titlePadding":2}},
"y":{"field":"v","type":"quantitative","scale":{"domain":[-4,4],"nice":false},"axis":{"values":[-4,-2,0,2,4],"title":"S","titleFontSize":13,"labelFontSize":7,"labelPadding":3,"titlePadding":4}},
"color":{"field":"f","type":"ordinal","scale":{"domain":[0.5,1,2,4],"range":["#f5994f","#cf477c","#8e13b2","#0c0a8c"]},"legend":null}},
"layer":[{"mark":{"type":"line","strokeWidth":0.8}},{"mark":{"type":"circle","size":16,"opacity":1}}]},
{"data":{"values":[{"t":"(k)"}]},"layer":[
{"mark":{"type":"rect","color":"#000"},"encoding":{"x":{"datum":-0.282,"type":"quantitative","scale":{"domain":[0,1],"nice":false,"zero":false},"axis":null},"x2":{"datum":-0.179},"y":{"datum":1.073,"type":"quantitative","scale":{"domain":[0,1],"nice":false,"zero":false},"axis":null},"y2":{"datum":0.963}}},
{"mark":{"type":"text","color":"#fff","fontSize":8,"align":"center","baseline":"middle"},"encoding":{"x":{"datum":-0.23,"type":"quantitative","axis":null},"y":{"datum":1.018,"type":"quantitative","axis":null},"text":{"field":"t"}}}]}
],
"resolve":{"scale":{"x":"independent","y":"independent"}}},
{"width":117,"height":82,
"layer":[
{"data":{"name":"sl"},
"encoding":{"x":{"field":"s","type":"quantitative","scale":{"type":"log","domain":[0.3,500],"nice":false},"axis":{"values":[1,10,100],"labelExpr":"datum.value == 1 ? '10⁰' : datum.value == 10 ? '10¹' : '10²'","title":"Strain (γ) %","titleFontSize":10.5,"labelFontSize":7,"labelPadding":3,"titlePadding":2}},
"y":{"field":"v","type":"quantitative","scale":{"domain":[-4,4],"nice":false},"axis":{"values":[-4,-2,0,2,4],"title":"S","titleFontSize":13,"labelFontSize":7,"labelPadding":3,"titlePadding":4}},
"color":{"field":"f","type":"ordinal","scale":{"domain":[0.5,1,2,4],"range":["#f5994f","#cf477c","#8e13b2","#0c0a8c"]},"legend":null}},
"layer":[{"mark":{"type":"line","strokeWidth":0.8}},{"mark":{"type":"circle","size":16,"opacity":1}}]},
{"data":{"values":[{"t":"(l)"}]},"layer":[
{"mark":{"type":"rect","color":"#000"},"encoding":{"x":{"datum":-0.285,"type":"quantitative","scale":{"domain":[0,1],"nice":false,"zero":false},"axis":null},"x2":{"datum":-0.205},"y":{"datum":1.073,"type":"quantitative","scale":{"domain":[0,1],"nice":false,"zero":false},"axis":null},"y2":{"datum":0.963}}},
{"mark":{"type":"text","color":"#fff","fontSize":8,"align":"center","baseline":"middle"},"encoding":{"x":{"datum":-0.245,"type":"quantitative","axis":null},"y":{"datum":1.018,"type":"quantitative","axis":null},"text":{"field":"t"}}}]},
{"data":{"values":[{"f":4},{"f":2},{"f":1},{"f":0.5}]},"mark":{"type":"rect","stroke":"#999","strokeWidth":0.4},
"encoding":{"x":{"datum":1.128,"type":"quantitative","scale":{"domain":[0,1],"nice":false,"zero":false},"axis":null},"x2":{"datum":1.171},
"y":{"field":"f","type":"ordinal","sort":[4,2,1,0.5],"scale":{"paddingInner":0,"paddingOuter":0},"axis":{"orient":"right","offset":20,"title":"Frequency (Hz)","titleAngle":270,"titleFontSize":9,"titleFontWeight":"bold","labelFontSize":7,"labelFontWeight":"bold","labelPadding":3,"titlePadding":4}},
"color":{"field":"f","type":"ordinal","scale":{"domain":[0.5,1,2,4],"range":["#f5994f","#cf477c","#8e13b2","#0c0a8c"]},"legend":null}}}
],
"resolve":{"scale":{"x":"independent","y":"independent"}}}
],"spacing":49,"bounds":"flush","resolve":{"scale":{"color":"independent"}}}
],
"spacing":11,"resolve":{"scale":{"color":"independent"}}
}
